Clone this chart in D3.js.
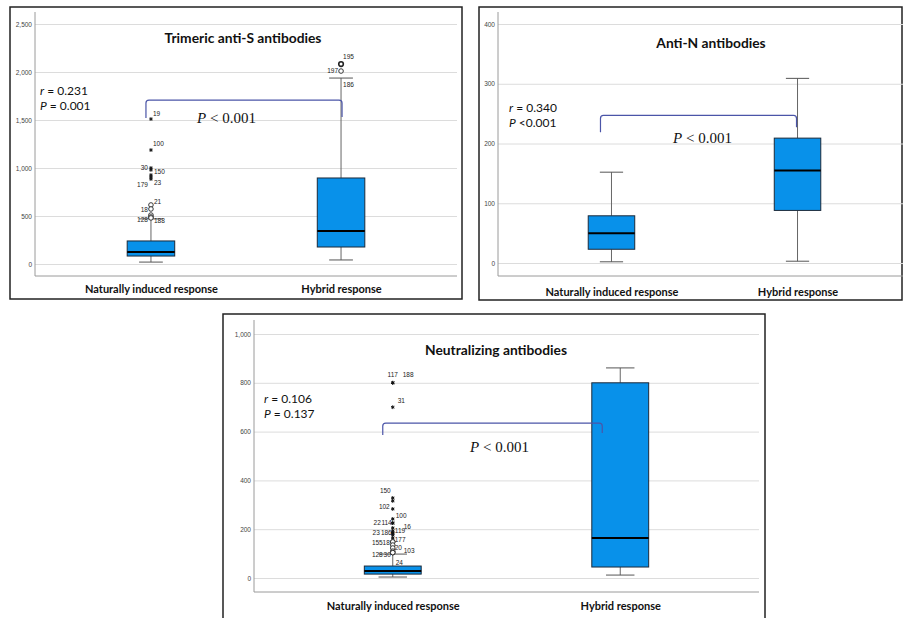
<!DOCTYPE html>
<html>
<head>
<meta charset="utf-8">
<script src="https://cdn.jsdelivr.net/npm/d3@7"></script>
<style>
  body { margin: 0; background: #fff; }
  svg { display: block; }
</style>
</head>
<body>
<svg width="903" height="618"></svg>
<script>
const categories = ["Naturally induced response", "Hybrid response"];

// [lower whisker, Q1, median, Q3, upper whisker] per group
const antiSStats = [[20, 83, 125, 240, 470], [42, 177, 344, 896, 1937]];
const antiNStats = [[2, 23, 50, 79, 152], [3, 88, 155, 209, 309]];
const neutStats = [[4, 16, 29, 49, 98], [12, 45, 164, 800, 861]];

const antiSTicks = [0, 500, 1000, 1500, 2000, 2500];
const antiNTicks = [0, 100, 200, 300, 400];
const neutTicks = [0, 200, 400, 600, 800, 1000];

// [group, value, marker, case number]
const antiSOutliers = [
  [0, 1510, "star", "19"], [0, 1187, "star", "100"], [0, 1000, "star", "30"],
  [0, 980, "star", "150"], [0, 927, "star", ""], [0, 906, "star", "23"],
  [0, 885, "star", "179"], [0, 615, "circle", "21"], [0, 573, "circle", "18"],
  [0, 510, "circle", ""], [0, 490, "circle", "128"], [0, 480, "circle", "188"],
  [1, 2083, "circle", "195"], [1, 2010, "circle", "197"], [1, 1865, "label", "186"]
];
const antiNOutliers = [];
const neutOutliers = [
  [0, 800, "star", "117"], [0, 800, "star", "188"], [0, 700, "star", "31"],
  [0, 328, "star", "150"], [0, 316, "star", ""], [0, 283, "star", "102"],
  [0, 242, "star", "100"], [0, 225, "star", "114"], [0, 225, "star", "22"],
  [0, 205, "star", "16"], [0, 193, "star", "119"], [0, 184, "star", "186"],
  [0, 184, "star", "23"], [0, 176, "star", ""], [0, 164, "star", "177"],
  [0, 148, "circle", "18"], [0, 148, "circle", "155"], [0, 135, "circle", ""],
  [0, 123, "circle", "20"], [0, 110, "circle", "103"], [0, 104, "circle", "30"],
  [0, 104, "circle", "128"], [0, 62, "label", "24"]
];

const titles = ["Trimeric anti-S antibodies", "Anti-N antibodies", "Neutralizing antibodies"];
const corrR = ["0.231", "0.340", "0.106"];
const corrP = [" = 0.001", " <0.001", " = 0.137"];
const groupP = "< 0.001";
// comparison bracket: [top, left end, right end] in data units
const antiSBracket = [1708, 1521, 1531];
const antiNBracket = [247, 219, 227];
const neutBracket = [635, 586, 594];

const svg = d3.select("svg");
const boxFill = "#0891ea";
const fmt = d3.format(",");

// label offsets [dx, dy, anchor] for the case numbers
const antiSLabelPos = {
  "19": [2, -5, "start"], "100": [2, -6, "start"], "30": [-3, 0, "end"],
  "150": [3, 2, "start"], "23": [3, 6, "start"], "179": [-3, 6, "end"],
  "21": [3, -3, "start"], "18": [-3, 1, "end"], "128": [-3, 3, "end"],
  "188": [3, 3, "start"], "195": [2, -7, "start"], "197": [-3, 0, "end"],
  "186": [2, 0, "start"]
};
const neutLabelPos = {
  "117": [0, -8, "middle"], "188": [10, -8, "start"], "31": [5, -6, "start"],
  "150": [-2, -7, "end"], "102": [-3, -2, "end"], "100": [3, -3, "start"],
  "114": [-1, 0, "end"], "22": [-12, 0, "end"], "16": [11, -1, "start"],
  "119": [2, 0, "start"], "186": [-1, 0, "end"], "23": [-13, 0, "end"],
  "177": [2, 2, "start"], "18": [-3, 1, "end"], "155": [-10, 1, "end"],
  "20": [2, 0, "start"], "103": [11, 0, "start"], "30": [-2, 2, "end"],
  "128": [-10, 2, "end"], "24": [3, 0, "start"]
};

const panels = [
  { frame: [10, 7, 462, 299], xr: [35, 457], yr: [264, 24], axisTop: 12, axisY: 276,
    ticks: antiSTicks, stats: antiSStats, outliers: antiSOutliers, labelPos: antiSLabelPos,
    title: titles[0], titleXY: [243, 38], r: corrR[0], p: corrP[0], rXY: [40, 91],
    bracket: antiSBracket, bracketDx: [-5, 1], pXY: [197, 118], catY: 289 },
  { frame: [479, 7, 902, 300], xr: [498, 911], yr: [263, 24], axisTop: 12, axisY: 276,
    ticks: antiNTicks, stats: antiNStats, outliers: antiNOutliers, labelPos: {},
    title: titles[1], titleXY: [711, 43], r: corrR[1], p: corrP[1], rXY: [509, 108],
    bracket: antiNBracket, bracketDx: [-11, -1], pXY: [673, 138], catY: 292 },
  { frame: [223, 314, 765, 640], xr: [254, 759], yr: [578, 334], axisTop: 320, axisY: 592,
    ticks: neutTicks, stats: neutStats, outliers: neutOutliers, labelPos: neutLabelPos,
    title: titles[2], titleXY: [496, 350], r: corrR[2], p: corrP[2], rXY: [264, 399],
    bracket: neutBracket, bracketDx: [-10, -18], pXY: [470, 447], catY: 606 }
];

panels.forEach(drawPanel);

function drawPanel(c) {
  const g = svg.append("g");
  const x = d3.scalePoint().domain(categories).range(c.xr).padding(0.61);
  const y = d3.scaleLinear().domain([0, d3.max(c.ticks)]).range(c.yr);
  const bw = x.step() * 0.25;

  g.append("rect")
    .attr("x", c.frame[0]).attr("y", c.frame[1])
    .attr("width", c.frame[2] - c.frame[0]).attr("height", c.frame[3] - c.frame[1])
    .attr("fill", "none").attr("stroke", "#222").attr("stroke-width", 1.5);

  // gridlines + tick labels
  const ya = g.append("g")
    .attr("transform", `translate(${c.xr[0]},0)`)
    .call(d3.axisLeft(y).tickValues(c.ticks).tickSize(-(c.xr[1] - c.xr[0])).tickPadding(3).tickFormat(fmt));
  ya.select(".domain").remove();
  ya.selectAll(".tick line").attr("stroke", "#dcdcdc");
  ya.selectAll(".tick text").attr("fill", "#444").style("font-family", "Liberation Sans, Arial, sans-serif").style("font-size", "6.5px");

  g.append("line").attr("x1", c.xr[0]).attr("x2", c.xr[0]).attr("y1", c.axisTop).attr("y2", c.axisY)
    .attr("stroke", "#9a9a9a");
  g.append("line").attr("x1", c.xr[0]).attr("x2", c.xr[1]).attr("y1", c.axisY).attr("y2", c.axisY)
    .attr("stroke", "#9a9a9a");

  const xa = g.append("g")
    .attr("transform", `translate(0,${c.catY})`)
    .call(d3.axisBottom(x).tickSize(0).tickPadding(0));
  xa.select(".domain").remove();
  xa.selectAll(".tick text").attr("fill", "#111").attr("dy", "0.35em")
    .style("font-family", "Lato, sans-serif").style("font-weight", "bold").style("font-size", "11px");

  g.append("text").attr("x", c.titleXY[0]).attr("y", c.titleXY[1]).attr("dy", "0.35em")
    .attr("text-anchor", "middle").attr("fill", "#111")
    .style("font-family", "Lato, sans-serif").style("font-weight", "bold").style("font-size", "13.8px")
    .text(c.title);

  // boxes
  const boxes = g.selectAll(".box").data(c.stats).join("g").attr("class", "box")
    .attr("transform", (d, i) => `translate(${x(categories[i])},0)`);
  boxes.append("line").attr("y1", d => y(d[0])).attr("y2", d => y(d[1])).attr("stroke", "#666");
  boxes.append("line").attr("y1", d => y(d[3])).attr("y2", d => y(d[4])).attr("stroke", "#666");
  boxes.append("line").attr("x1", -bw / 4).attr("x2", bw / 4)
    .attr("y1", d => y(d[0])).attr("y2", d => y(d[0])).attr("stroke", "#555");
  boxes.append("line").attr("x1", -bw / 4).attr("x2", bw / 4)
    .attr("y1", d => y(d[4])).attr("y2", d => y(d[4])).attr("stroke", "#555");
  boxes.append("rect").attr("x", -bw / 2).attr("width", bw)
    .attr("y", d => y(d[3])).attr("height", d => y(d[1]) - y(d[3]))
    .attr("fill", boxFill).attr("stroke", "#1c2a3a").attr("stroke-width", 1);
  boxes.append("line").attr("x1", -bw / 2).attr("x2", bw / 2)
    .attr("y1", d => y(d[2])).attr("y2", d => y(d[2])).attr("stroke", "#000").attr("stroke-width", 2);

  // outliers
  const star = d3.symbol(d3.symbolAsterisk, 10);
  c.outliers.forEach(([gi, v, kind, lab]) => {
    const px = x(categories[gi]), py = y(v);
    if (kind === "star") {
      g.append("path").attr("d", star).attr("transform", `translate(${px},${py})`)
        .attr("fill", "none").attr("stroke", "#111").attr("stroke-width", 1);
    } else if (kind === "circle") {
      g.append("circle").attr("cx", px).attr("cy", py).attr("r", 2.3)
        .attr("fill", "#fff").attr("stroke", "#222").attr("stroke-width", lab === "195" ? 1.6 : 0.9);
    }
    if (lab) {
      const p = c.labelPos[lab] || [3, 0, "start"];
      g.append("text").attr("x", px + p[0]).attr("y", py + p[1]).attr("dy", "0.35em")
        .attr("text-anchor", p[2]).attr("fill", "#222")
        .style("font-family", "Liberation Sans, Arial, sans-serif").style("font-size", "6.5px")
        .text(lab);
    }
  });

  // bracket
  const lx = x(categories[0]) + c.bracketDx[0], rx = x(categories[1]) + c.bracketDx[1];
  const ty = y(c.bracket[0]);
  g.append("path")
    .attr("d", `M${lx},${y(c.bracket[1])} L${lx},${ty + 3} Q${lx},${ty} ${lx + 3},${ty} L${rx - 3},${ty} Q${rx},${ty} ${rx},${ty + 3} L${rx},${y(c.bracket[2])}`)
    .attr("fill", "none").attr("stroke", "#4b55a8").attr("stroke-width", 1.2);

  const pt = g.append("text").attr("x", c.pXY[0]).attr("y", c.pXY[1]).attr("dy", "0.35em")
    .attr("fill", "#111").style("font-family", "Liberation Serif, Times New Roman, serif").style("font-size", "15px");
  pt.append("tspan").style("font-style", "italic").text("P");
  pt.append("tspan").text(" " + groupP);

  const rt = g.append("text").attr("x", c.rXY[0]).attr("y", c.rXY[1]).attr("dy", "0.35em")
    .attr("fill", "#111").style("font-family", "Lato, sans-serif").style("font-size", "12px");
  rt.append("tspan").style("font-style", "italic").text("r");
  rt.append("tspan").text(" = " + c.r);
  const rp = g.append("text").attr("x", c.rXY[0]).attr("y", c.rXY[1] + 15).attr("dy", "0.35em")
    .attr("fill", "#111").style("font-family", "Lato, sans-serif").style("font-size", "12px");
  rp.append("tspan").style("font-style", "italic").text("P");
  rp.append("tspan").text(c.p);
}
</script>
</body>
</html>
